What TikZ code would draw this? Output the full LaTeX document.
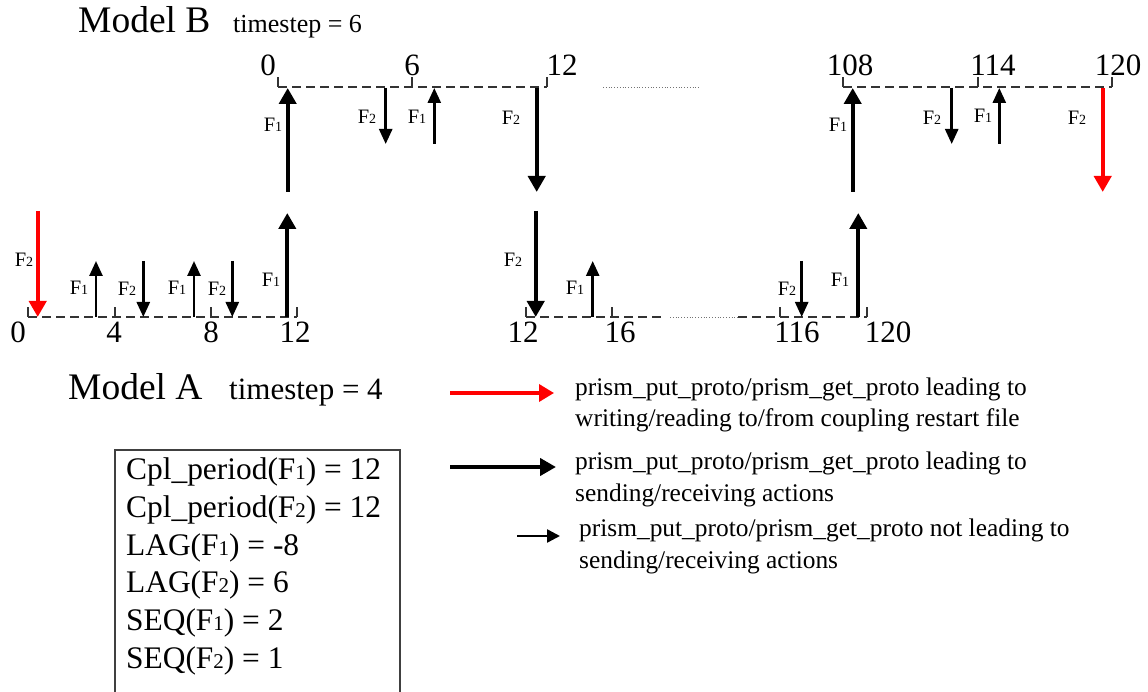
\documentclass[tikz,border=0pt]{standalone}
\usepackage{fontspec}
\setmainfont{Liberation Serif}
\usetikzlibrary{arrows.meta}
\newcommand{\fsub}[1]{F{\fontsize{14}{16}\selectfont #1}}
\newcommand{\bsub}[1]{F{\fontsize{21}{22}\selectfont #1}}
\tikzset{
  thickarr/.style={line width=4pt,-{Triangle[width=17pt,length=16pt]}},
  thinarr/.style={line width=2.6pt,-{Triangle[width=13pt,length=15pt]}},
  smallarr/.style={line width=2.4pt,-{Triangle[width=13pt,length=13pt]}},
  redc/.style={draw=red,color=red},
  tline/.style={line width=1.2pt,dash pattern=on 9pt off 5pt,black!80},
  tickl/.style={line width=1.2pt,black!80},
  dotl/.style={line width=0.8pt,dotted,black!55},
  flab/.style={inner sep=0pt,font=\fontsize{20.5}{24}\selectfont},
  numlab/.style={inner sep=0pt,anchor=base,font=\fontsize{31}{34}\selectfont},
  legtext/.style={inner sep=0pt,anchor=base west,font=\fontsize{25.4}{30}\selectfont},
  parmtext/.style={inner sep=0pt,anchor=base west,font=\fontsize{31.4}{34}\selectfont},
}
\begin{document}
\begin{tikzpicture}[x=1pt,y=-1pt]
\useasboundingbox (0,0) rectangle (1148,692);

% titles
\node[inner sep=0pt,anchor=base west,font=\fontsize{37.5}{40}\selectfont] (mB) at (78,33) {Model B};
\node[inner sep=0pt,anchor=base west,font=\fontsize{26}{30}\selectfont] (tsB) at (233,33) {timestep = 6};
\node[inner sep=0pt,anchor=base west,font=\fontsize{37.5}{40}\selectfont] (mA) at (68,399) {Model A};
\node[inner sep=0pt,anchor=base west,font=\fontsize{31}{34}\selectfont] (tsA) at (229,399) {timestep = 4};

% ---------- Model B timeline ----------
\coordinate (b0) at (278,87);
\coordinate (b6) at (412,87);
\coordinate (b12) at (547,87);
\coordinate (b108) at (843,87);
\coordinate (b114) at (978,87);
\coordinate (b120) at (1112,87);
\coordinate (bd1) at (603,87);
\coordinate (bd2) at (700,87);
\draw[tline] (b0) -- (b12);
\draw[tline] (b108) -- (b120);
\draw[dotl] (bd1) -- (bd2);
\foreach \c in {b0,b6,b12,b108,b114,b120} \draw[tickl] (\c) -- ++(0,-10);

\node[numlab] (nb0) at (268,76) {0};
\node[numlab] (nb6) at (412,76) {6};
\node[numlab] (nb12) at (562,76) {12};
\node[numlab] (nb108) at (850,76) {108};
\node[numlab] (nb114) at (993,76) {114};
\node[numlab] (nb120) at (1118,76) {120};

% arrows on B
\coordinate (bA1s) at (287.7,192); \coordinate (bA1e) at (287.7,88);
\coordinate (bA2s) at (385.7,88);  \coordinate (bA2e) at (385.7,144);
\coordinate (bA3s) at (434.3,144); \coordinate (bA3e) at (434.3,88);
\coordinate (bA4s) at (536.7,88);  \coordinate (bA4e) at (536.7,192);
\coordinate (bA5s) at (852.7,192); \coordinate (bA5e) at (852.7,88);
\coordinate (bA6s) at (951.7,88);  \coordinate (bA6e) at (951.7,144);
\coordinate (bA7s) at (999.3,144); \coordinate (bA7e) at (999.3,88);
\coordinate (bA8s) at (1102.7,88); \coordinate (bA8e) at (1102.7,192);
\draw[thickarr] (bA1s) -- (bA1e);
\draw[thinarr] (bA2s) -- (bA2e);
\draw[thinarr] (bA3s) -- (bA3e);
\draw[thickarr] (bA4s) -- (bA4e);
\draw[thickarr] (bA5s) -- (bA5e);
\draw[thinarr] (bA6s) -- (bA6e);
\draw[thinarr] (bA7s) -- (bA7e);
\draw[thickarr,redc] (bA8s) -- (bA8e);

\node[flab] (lb1) at (273,125) {\fsub{1}};
\node[flab] (lb2) at (367,117) {\fsub{2}};
\node[flab] (lb3) at (417,117) {\fsub{1}};
\node[flab] (lb4) at (511,118) {\fsub{2}};
\node[flab] (lb5) at (838,125) {\fsub{1}};
\node[flab] (lb6) at (932,118) {\fsub{2}};
\node[flab] (lb7) at (983,116) {\fsub{1}};
\node[flab] (lb8) at (1077,118) {\fsub{2}};

% ---------- Model A timeline ----------
\coordinate (a0) at (28,317);
\coordinate (a4) at (115,317);
\coordinate (a8) at (211,317);
\coordinate (a12) at (297,317);
\coordinate (c12) at (526,317);
\coordinate (c16) at (612,317);
\coordinate (cd0) at (662,317);
\coordinate (cd1) at (670,317);
\coordinate (cd2) at (738,317);
\coordinate (c116) at (780,317);
\coordinate (c120) at (867,317);
\draw[tline] (a0) -- (a12);
\draw[tline] (c12) -- (cd0);
\draw[dotl] (cd1) -- (cd2);
\draw[tline] (cd2) -- (c120);
\foreach \c in {a0,a4,a8,a12,c12,c16,c116,c120} \draw[tickl] (\c) -- ++(0,-10);

\node[numlab] (na0) at (18,343) {0};
\node[numlab] (na4) at (114,343) {4};
\node[numlab] (na8) at (211,343) {8};
\node[numlab] (na12) at (295,343) {12};
\node[numlab] (nc12) at (523,343) {12};
\node[numlab] (nc16) at (620,343) {16};
\node[numlab] (nc116) at (797,343) {116};
\node[numlab] (nc120) at (888,343) {120};

\coordinate (aA1s) at (37.7,211);  \coordinate (aA1e) at (37.7,317);
\coordinate (aA2s) at (96,317);    \coordinate (aA2e) at (96,261);
\coordinate (aA3s) at (143.3,261); \coordinate (aA3e) at (143.3,317);
\coordinate (aA4s) at (194,317);   \coordinate (aA4e) at (194,261);
\coordinate (aA5s) at (232.3,261); \coordinate (aA5e) at (232.3,317);
\coordinate (aA6s) at (287.3,317); \coordinate (aA6e) at (287.3,213);
\coordinate (aA7s) at (535.7,211); \coordinate (aA7e) at (535.7,317);
\coordinate (aA8s) at (592.7,317); \coordinate (aA8e) at (592.7,261);
\coordinate (aA9s) at (801.7,261); \coordinate (aA9e) at (801.7,317);
\coordinate (aA10s) at (858.3,317); \coordinate (aA10e) at (858.3,213);
\draw[thickarr,redc] (aA1s) -- (aA1e);
\draw[thinarr] (aA2s) -- (aA2e);
\draw[thinarr] (aA3s) -- (aA3e);
\draw[thinarr] (aA4s) -- (aA4e);
\draw[thinarr] (aA5s) -- (aA5e);
\draw[thickarr] (aA6s) -- (aA6e);
\draw[thickarr] (aA7s) -- (aA7e);
\draw[thinarr] (aA8s) -- (aA8e);
\draw[thinarr] (aA9s) -- (aA9e);
\draw[thickarr] (aA10s) -- (aA10e);

\node[flab] (la1) at (24,260) {\fsub{2}};
\node[flab] (la2) at (79,288) {\fsub{1}};
\node[flab] (la3) at (127,289) {\fsub{2}};
\node[flab] (la4) at (177,288) {\fsub{1}};
\node[flab] (la5) at (217,289) {\fsub{2}};
\node[flab] (la6) at (271,280) {\fsub{1}};
\node[flab] (la7) at (513,260) {\fsub{2}};
\node[flab] (la8) at (575,288) {\fsub{1}};
\node[flab] (la9) at (787,289) {\fsub{2}};
\node[flab] (la10) at (840,280) {\fsub{1}};

% ---------- legend ----------
\coordinate (lg1s) at (450,393); \coordinate (lg1e) at (554,393);
\coordinate (lg2s) at (450,467); \coordinate (lg2e) at (556,467);
\coordinate (lg3s) at (517,536); \coordinate (lg3e) at (560,536);
\draw[line width=3.5pt,red,-{Triangle[width=17pt,length=15pt]}] (lg1s) -- (lg1e);
\draw[line width=4.5pt,-{Triangle[width=17pt,length=16pt]}] (lg2s) -- (lg2e);
\draw[smallarr] (lg3s) -- (lg3e);

\node[legtext] (t1a) at (575,395) {prism\_put\_proto/prism\_get\_proto leading to};
\node[legtext] (t1b) at (575,426) {writing/reading to/from coupling restart file};
\node[legtext] (t2a) at (575,469) {prism\_put\_proto/prism\_get\_proto leading to};
\node[legtext] (t2b) at (575,501) {sending/receiving actions};
\node[legtext] (t3a) at (579,536) {prism\_put\_proto/prism\_get\_proto not leading to};
\node[legtext] (t3b) at (579,568) {sending/receiving actions};

% ---------- parameter box ----------
\draw[line width=1.3pt,black!75] (115,720) -- (115,450) -- (400,450) -- (400,720);
\node[parmtext] (p1) at (126,479) {Cpl\_period(\bsub{1}) = 12};
\node[parmtext] (p2) at (126,517) {Cpl\_period(\bsub{2}) = 12};
\node[parmtext] (p3) at (126,555) {LAG(\bsub{1}) = -8};
\node[parmtext] (p4) at (126,592) {LAG(\bsub{2}) = 6};
\node[parmtext] (p5) at (126,630) {SEQ(\bsub{1}) = 2};
\node[parmtext] (p6) at (126,668) {SEQ(\bsub{2}) = 1};
\end{tikzpicture}
\end{document}
